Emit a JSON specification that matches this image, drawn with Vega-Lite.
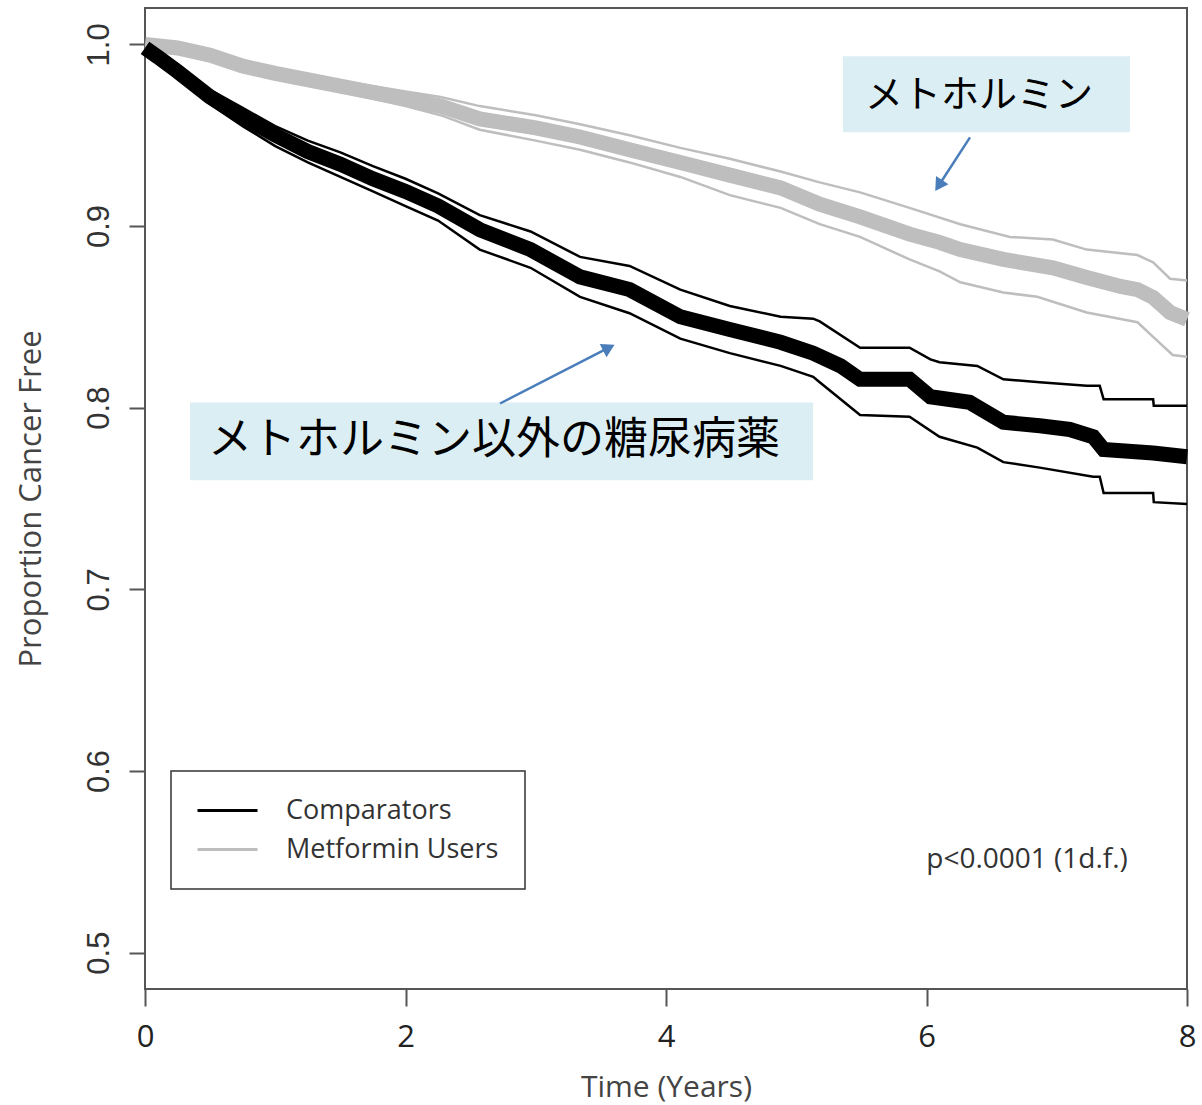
{
  "$schema": "https://vega.github.io/schema/vega-lite/v6.json",
  "width": 1042,
  "height": 981,
  "autosize": "none",
  "padding": {"left": 145, "top": 8, "right": 15, "bottom": 116},
  "background": "white",
  "config": {
    "font": "Open Sans",
    "view": {"stroke": "#555", "strokeWidth": 2},
    "axis": {"grid": false, "domain": false, "tickColor": "#555", "tickWidth": 2, "titleFontWeight": "normal", "titleColor": "#444", "labelColor": "#333"}
  },
  "datasets": {
    "curves": [
      {"g":"Metformin Users","c":"est","t":0,"s":1.0},{"g":"Metformin Users","c":"est","t":0.25,"s":0.998},{"g":"Metformin Users","c":"est","t":0.5,"s":0.994},{"g":"Metformin Users","c":"est","t":0.75,"s":0.988},{"g":"Metformin Users","c":"est","t":1.0,"s":0.984},{"g":"Metformin Users","c":"est","t":1.5,"s":0.977},{"g":"Metformin Users","c":"est","t":2.0,"s":0.970},{"g":"Metformin Users","c":"est","t":2.27,"s":0.966},{"g":"Metformin Users","c":"est","t":2.57,"s":0.959},{"g":"Metformin Users","c":"est","t":3.0,"s":0.954},{"g":"Metformin Users","c":"est","t":3.34,"s":0.949},{"g":"Metformin Users","c":"est","t":3.72,"s":0.942},{"g":"Metformin Users","c":"est","t":4.11,"s":0.935},{"g":"Metformin Users","c":"est","t":4.49,"s":0.928},{"g":"Metformin Users","c":"est","t":4.88,"s":0.921},{"g":"Metformin Users","c":"est","t":5.18,"s":0.912},{"g":"Metformin Users","c":"est","t":5.49,"s":0.905},{"g":"Metformin Users","c":"est","t":5.87,"s":0.8955},{"g":"Metformin Users","c":"est","t":6.10,"s":0.891},{"g":"Metformin Users","c":"est","t":6.26,"s":0.887},{"g":"Metformin Users","c":"est","t":6.59,"s":0.8816},{"g":"Metformin Users","c":"est","t":6.97,"s":0.877},{"g":"Metformin Users","c":"est","t":7.23,"s":0.8717},{"g":"Metformin Users","c":"est","t":7.49,"s":0.8667},{"g":"Metformin Users","c":"est","t":7.62,"s":0.865},{"g":"Metformin Users","c":"est","t":7.74,"s":0.8607},{"g":"Metformin Users","c":"est","t":7.87,"s":0.8524},{"g":"Metformin Users","c":"est","t":8.0,"s":0.8486},
      {"g":"Metformin Users","c":"up","t":0,"s":1.0},{"g":"Metformin Users","c":"up","t":0.25,"s":0.999},{"g":"Metformin Users","c":"up","t":0.5,"s":0.996},{"g":"Metformin Users","c":"up","t":0.75,"s":0.990},{"g":"Metformin Users","c":"up","t":1.0,"s":0.987},{"g":"Metformin Users","c":"up","t":1.5,"s":0.980},{"g":"Metformin Users","c":"up","t":2.0,"s":0.974},{"g":"Metformin Users","c":"up","t":2.27,"s":0.971},{"g":"Metformin Users","c":"up","t":2.57,"s":0.966},{"g":"Metformin Users","c":"up","t":3.0,"s":0.961},{"g":"Metformin Users","c":"up","t":3.34,"s":0.956},{"g":"Metformin Users","c":"up","t":3.72,"s":0.950},{"g":"Metformin Users","c":"up","t":4.11,"s":0.943},{"g":"Metformin Users","c":"up","t":4.49,"s":0.937},{"g":"Metformin Users","c":"up","t":4.88,"s":0.930},{"g":"Metformin Users","c":"up","t":5.18,"s":0.924},{"g":"Metformin Users","c":"up","t":5.49,"s":0.9185},{"g":"Metformin Users","c":"up","t":5.87,"s":0.910},{"g":"Metformin Users","c":"up","t":6.26,"s":0.901},{"g":"Metformin Users","c":"up","t":6.64,"s":0.894},{"g":"Metformin Users","c":"up","t":6.97,"s":0.8926},{"g":"Metformin Users","c":"up","t":7.23,"s":0.887},{"g":"Metformin Users","c":"up","t":7.62,"s":0.884},{"g":"Metformin Users","c":"up","t":7.74,"s":0.880},{"g":"Metformin Users","c":"up","t":7.87,"s":0.871},{"g":"Metformin Users","c":"up","t":8.0,"s":0.870},
      {"g":"Metformin Users","c":"lo","t":0,"s":1.0},{"g":"Metformin Users","c":"lo","t":0.25,"s":0.997},{"g":"Metformin Users","c":"lo","t":0.5,"s":0.992},{"g":"Metformin Users","c":"lo","t":0.75,"s":0.986},{"g":"Metformin Users","c":"lo","t":1.0,"s":0.981},{"g":"Metformin Users","c":"lo","t":1.5,"s":0.974},{"g":"Metformin Users","c":"lo","t":2.0,"s":0.966},{"g":"Metformin Users","c":"lo","t":2.27,"s":0.961},{"g":"Metformin Users","c":"lo","t":2.57,"s":0.953},{"g":"Metformin Users","c":"lo","t":3.0,"s":0.947},{"g":"Metformin Users","c":"lo","t":3.34,"s":0.942},{"g":"Metformin Users","c":"lo","t":3.72,"s":0.935},{"g":"Metformin Users","c":"lo","t":4.11,"s":0.927},{"g":"Metformin Users","c":"lo","t":4.49,"s":0.917},{"g":"Metformin Users","c":"lo","t":4.88,"s":0.910},{"g":"Metformin Users","c":"lo","t":5.18,"s":0.901},{"g":"Metformin Users","c":"lo","t":5.49,"s":0.894},{"g":"Metformin Users","c":"lo","t":5.87,"s":0.8816},{"g":"Metformin Users","c":"lo","t":6.10,"s":0.875},{"g":"Metformin Users","c":"lo","t":6.26,"s":0.869},{"g":"Metformin Users","c":"lo","t":6.59,"s":0.8634},{"g":"Metformin Users","c":"lo","t":6.85,"s":0.861},{"g":"Metformin Users","c":"lo","t":7.23,"s":0.8524},{"g":"Metformin Users","c":"lo","t":7.62,"s":0.847},{"g":"Metformin Users","c":"lo","t":7.74,"s":0.839},{"g":"Metformin Users","c":"lo","t":7.89,"s":0.829},{"g":"Metformin Users","c":"lo","t":8.0,"s":0.828},
      {"g":"Comparators","c":"est","t":0,"s":0.998},{"g":"Comparators","c":"est","t":0.1,"s":0.993},{"g":"Comparators","c":"est","t":0.25,"s":0.985},{"g":"Comparators","c":"est","t":0.5,"s":0.971},{"g":"Comparators","c":"est","t":0.75,"s":0.960},{"g":"Comparators","c":"est","t":1.0,"s":0.950},{"g":"Comparators","c":"est","t":1.25,"s":0.941},{"g":"Comparators","c":"est","t":1.5,"s":0.934},{"g":"Comparators","c":"est","t":1.75,"s":0.926},{"g":"Comparators","c":"est","t":2.0,"s":0.919},{"g":"Comparators","c":"est","t":2.25,"s":0.911},{"g":"Comparators","c":"est","t":2.57,"s":0.898},{"g":"Comparators","c":"est","t":2.96,"s":0.887},{"g":"Comparators","c":"est","t":3.34,"s":0.872},{"g":"Comparators","c":"est","t":3.72,"s":0.865},{"g":"Comparators","c":"est","t":4.11,"s":0.850},{"g":"Comparators","c":"est","t":4.49,"s":0.843},{"g":"Comparators","c":"est","t":4.88,"s":0.836},{"g":"Comparators","c":"est","t":5.13,"s":0.830},{"g":"Comparators","c":"est","t":5.34,"s":0.823},{"g":"Comparators","c":"est","t":5.49,"s":0.8156},{"g":"Comparators","c":"est","t":5.87,"s":0.8156},{"g":"Comparators","c":"est","t":6.03,"s":0.806},{"g":"Comparators","c":"est","t":6.33,"s":0.803},{"g":"Comparators","c":"est","t":6.59,"s":0.792},{"g":"Comparators","c":"est","t":6.87,"s":0.790},{"g":"Comparators","c":"est","t":7.10,"s":0.788},{"g":"Comparators","c":"est","t":7.28,"s":0.784},{"g":"Comparators","c":"est","t":7.36,"s":0.777},{"g":"Comparators","c":"est","t":7.74,"s":0.775},{"g":"Comparators","c":"est","t":8.0,"s":0.773},
      {"g":"Comparators","c":"up","t":0,"s":0.999},{"g":"Comparators","c":"up","t":0.1,"s":0.995},{"g":"Comparators","c":"up","t":0.25,"s":0.988},{"g":"Comparators","c":"up","t":0.5,"s":0.975},{"g":"Comparators","c":"up","t":0.75,"s":0.965},{"g":"Comparators","c":"up","t":1.0,"s":0.955},{"g":"Comparators","c":"up","t":1.25,"s":0.947},{"g":"Comparators","c":"up","t":1.5,"s":0.9405},{"g":"Comparators","c":"up","t":1.75,"s":0.933},{"g":"Comparators","c":"up","t":2.0,"s":0.926},{"g":"Comparators","c":"up","t":2.25,"s":0.918},{"g":"Comparators","c":"up","t":2.57,"s":0.906},{"g":"Comparators","c":"up","t":2.96,"s":0.897},{"g":"Comparators","c":"up","t":3.34,"s":0.883},{"g":"Comparators","c":"up","t":3.72,"s":0.878},{"g":"Comparators","c":"up","t":4.11,"s":0.865},{"g":"Comparators","c":"up","t":4.49,"s":0.856},{"g":"Comparators","c":"up","t":4.88,"s":0.850},{"g":"Comparators","c":"up","t":5.13,"s":0.849},{"g":"Comparators","c":"up","t":5.18,"s":0.8475},{"g":"Comparators","c":"up","t":5.49,"s":0.833},{"g":"Comparators","c":"up","t":5.87,"s":0.833},{"g":"Comparators","c":"up","t":6.03,"s":0.8266},{"g":"Comparators","c":"up","t":6.10,"s":0.825},{"g":"Comparators","c":"up","t":6.39,"s":0.823},{"g":"Comparators","c":"up","t":6.59,"s":0.8156},{"g":"Comparators","c":"up","t":6.87,"s":0.814},{"g":"Comparators","c":"up","t":7.23,"s":0.812},{"g":"Comparators","c":"up","t":7.33,"s":0.812},{"g":"Comparators","c":"up","t":7.36,"s":0.8046},{"g":"Comparators","c":"up","t":7.74,"s":0.8046},{"g":"Comparators","c":"up","t":7.745,"s":0.801},{"g":"Comparators","c":"up","t":8.0,"s":0.801},
      {"g":"Comparators","c":"lo","t":0,"s":0.997},{"g":"Comparators","c":"lo","t":0.1,"s":0.991},{"g":"Comparators","c":"lo","t":0.25,"s":0.982},{"g":"Comparators","c":"lo","t":0.5,"s":0.967},{"g":"Comparators","c":"lo","t":0.75,"s":0.955},{"g":"Comparators","c":"lo","t":1.0,"s":0.944},{"g":"Comparators","c":"lo","t":1.25,"s":0.935},{"g":"Comparators","c":"lo","t":1.5,"s":0.927},{"g":"Comparators","c":"lo","t":1.75,"s":0.919},{"g":"Comparators","c":"lo","t":2.0,"s":0.911},{"g":"Comparators","c":"lo","t":2.25,"s":0.903},{"g":"Comparators","c":"lo","t":2.57,"s":0.887},{"g":"Comparators","c":"lo","t":2.96,"s":0.877},{"g":"Comparators","c":"lo","t":3.34,"s":0.861},{"g":"Comparators","c":"lo","t":3.72,"s":0.852},{"g":"Comparators","c":"lo","t":4.11,"s":0.838},{"g":"Comparators","c":"lo","t":4.49,"s":0.830},{"g":"Comparators","c":"lo","t":4.88,"s":0.823},{"g":"Comparators","c":"lo","t":5.13,"s":0.817},{"g":"Comparators","c":"lo","t":5.18,"s":0.814},{"g":"Comparators","c":"lo","t":5.49,"s":0.796},{"g":"Comparators","c":"lo","t":5.87,"s":0.795},{"g":"Comparators","c":"lo","t":6.10,"s":0.784},{"g":"Comparators","c":"lo","t":6.39,"s":0.778},{"g":"Comparators","c":"lo","t":6.59,"s":0.770},{"g":"Comparators","c":"lo","t":6.87,"s":0.767},{"g":"Comparators","c":"lo","t":7.28,"s":0.762},{"g":"Comparators","c":"lo","t":7.33,"s":0.762},{"g":"Comparators","c":"lo","t":7.36,"s":0.753},{"g":"Comparators","c":"lo","t":7.74,"s":0.753},{"g":"Comparators","c":"lo","t":7.745,"s":0.748},{"g":"Comparators","c":"lo","t":8.0,"s":0.747}
    ]
  },
  "layer": [
    {
      "data": {"name": "curves"},
      "transform": [{"filter": "datum.c != 'est'"}],
      "mark": {"type": "line", "strokeWidth": 2.5},
      "encoding": {
        "x": {"field": "t", "type": "quantitative", "scale": {"domain": [0, 8], "nice": false, "zero": false},
              "axis": {"values": [0, 2, 4, 6, 8], "format": "d", "labelFlush": false, "title": "Time (Years)", "tickSize": 17, "labelPadding": 16, "labelFont": "Open Sans", "labelFontSize": 31, "labelColor": "#222", "titleFont": "Open Sans", "titleFontSize": 30, "titlePadding": 20}},
        "y": {"field": "s", "type": "quantitative", "scale": {"domain": [0.48, 1.02], "nice": false, "zero": false},
              "axis": {"values": [0.5, 0.6, 0.7, 0.8, 0.9, 1.0], "format": ".1f", "labelFlush": false, "title": "Proportion Cancer Free", "tickSize": 16, "labelAngle": 270, "labelAlign": "center", "labelBaseline": "alphabetic", "labelPadding": 21, "labelFont": "Liberation Sans", "labelFontSize": 31, "labelColor": "#333", "titleFont": "Open Sans", "titleFontSize": 31, "titlePadding": 36}},
        "color": {"field": "g", "type": "nominal", "scale": {"domain": ["Comparators", "Metformin Users"], "range": ["#000000", "#bebebe"]},
                  "legend": {"orient": "none", "legendX": 26, "legendY": 763, "title": null, "symbolType": "M-3,0H3", "symbolSize": 400, "symbolStrokeWidth": 3, "symbolOffset": 17, "labelFont": "Open Sans", "labelFontSize": 27, "labelColor": "#333", "labelOffset": 45, "labelLimit": 500, "rowPadding": 11, "padding": 26, "strokeColor": "#333", "fillColor": "white",
                             "encode": {"symbols": {"update": {"strokeWidth": {"value": 3}, "fill": {"value": "transparent"}}}, "legend": {"update": {"strokeWidth": {"value": 1.5}}}}}},
        "detail": {"field": "c"}
      }
    },
    {
      "data": {"name": "curves"},
      "transform": [{"filter": "datum.c == 'est'"}],
      "mark": {"type": "line", "strokeWidth": 15},
      "encoding": {
        "x": {"field": "t", "type": "quantitative"},
        "y": {"field": "s", "type": "quantitative"},
        "color": {"field": "g", "type": "nominal"}
      }
    },
    {
      "data": {"values": [{"x1": 5.359, "x2": 7.562, "y1": 0.9934, "y2": 0.9516}, {"x1": 0.3455, "x2": 5.129, "y1": 0.8029, "y2": 0.760}]},
      "mark": {"type": "rect", "fill": "#DBEEF3"},
      "encoding": {
        "x": {"field": "x1", "type": "quantitative"},
        "x2": {"field": "x2"},
        "y": {"field": "y1", "type": "quantitative"},
        "y2": {"field": "y2"}
      }
    },
    {
      "data": {"values": [{"x": 5.528, "y": 0.9714, "label": "メトホルミン"}]},
      "mark": {"type": "text", "align": "left", "baseline": "middle", "font": "Noto Sans CJK JP", "fontSize": 38, "color": "#000"},
      "encoding": {"x": {"field": "x", "type": "quantitative"}, "y": {"field": "y", "type": "quantitative"}, "text": {"field": "label"}}
    },
    {
      "data": {"values": [{"x": 0.484, "y": 0.7814, "label": "メトホルミン以外の糖尿病薬"}]},
      "mark": {"type": "text", "align": "left", "baseline": "middle", "font": "Noto Sans CJK JP", "fontSize": 44, "color": "#000"},
      "encoding": {"x": {"field": "x", "type": "quantitative"}, "y": {"field": "y", "type": "quantitative"}, "text": {"field": "label"}}
    },
    {
      "data": {"values": [{"x": 6.334, "y": 0.9488, "x2": 6.094, "y2": 0.9223}, {"x": 2.7255, "y": 0.8023, "x2": 3.561, "y2": 0.8330}]},
      "mark": {"type": "rule", "stroke": "#4A7EBB", "strokeWidth": 2.5},
      "encoding": {"x": {"field": "x", "type": "quantitative"}, "y": {"field": "y", "type": "quantitative"}, "x2": {"field": "x2"}, "y2": {"field": "y2"}}
    },
    {
      "data": {"values": [{"x": 6.094, "y": 0.9223}]},
      "mark": {"type": "point", "shape": "triangle-up", "filled": true, "fill": "#4A7EBB", "size": 220, "angle": 213, "opacity": 1},
      "encoding": {"x": {"field": "x", "type": "quantitative"}, "y": {"field": "y", "type": "quantitative"}}
    },
    {
      "data": {"values": [{"x": 3.561, "y": 0.8330}]},
      "mark": {"type": "point", "shape": "triangle-up", "filled": true, "fill": "#4A7EBB", "size": 220, "angle": 62.8, "opacity": 1},
      "encoding": {"x": {"field": "x", "type": "quantitative"}, "y": {"field": "y", "type": "quantitative"}}
    },
    {
      "data": {"values": [{"x": 7.546, "y": 0.5512, "label": "p<0.0001 (1d.f.)"}]},
      "mark": {"type": "text", "align": "right", "baseline": "middle", "font": "Open Sans", "fontSize": 28, "color": "#333"},
      "encoding": {"x": {"field": "x", "type": "quantitative"}, "y": {"field": "y", "type": "quantitative"}, "text": {"field": "label"}}
    }
  ]
}
